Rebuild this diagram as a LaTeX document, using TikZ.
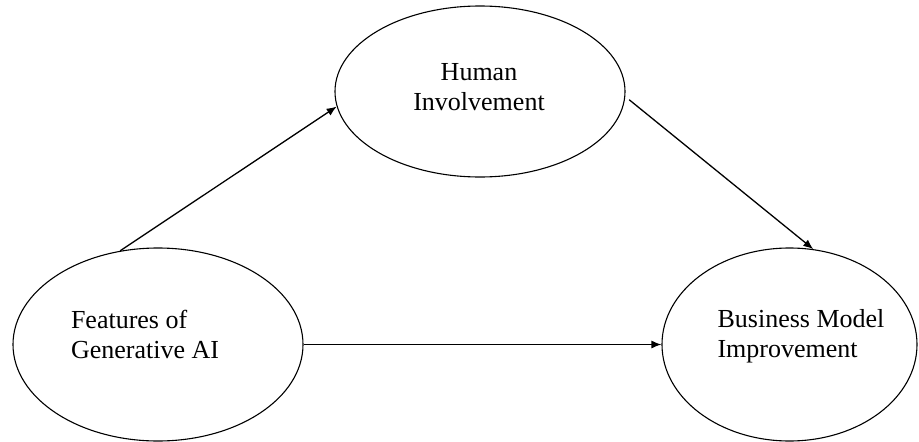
\documentclass[tikz,border=0pt]{standalone}
\usepackage{fontspec}
\setmainfont{Liberation Serif}
\usetikzlibrary{shapes.geometric,arrows.meta}

\begin{document}
\begin{tikzpicture}[x=1pt,y=-1pt,
  oval/.style={draw, ellipse, line width=1.1pt, inner sep=0pt},
  txt/.style={align=left, inner sep=0pt, font=\fontsize{26}{30}\selectfont},
  link/.style={-{Latex[length=10pt,width=8pt]}, line width=1.3pt}]
\useasboundingbox (0,0) rectangle (919,442);
% ovals
\node [oval, minimum width=290pt, minimum height=171pt] (hum) at (480,91.5) {};
\node [oval, minimum width=290pt, minimum height=193pt] (feat) at (158,344.5) {};
\node [oval, minimum width=255pt, minimum height=193pt] (biz) at (789.5,344.5) {};
% texts
\node [txt, align=center] (humtext) at (479,87) {Human\\Involvement};
\node [txt] (feattext) at (145,334) {Features of\\Generative AI};
\node [txt] (biztext) at (801,336) {Business Model\\Improvement};
% arrows
\draw [link] (feat.112) -- (hum.186);
\draw [link, shorten <=5pt] (hum.-2) -- (biz.76);
\draw [link] (feat.east) -- (biz.west);
\end{tikzpicture}
\end{document}
